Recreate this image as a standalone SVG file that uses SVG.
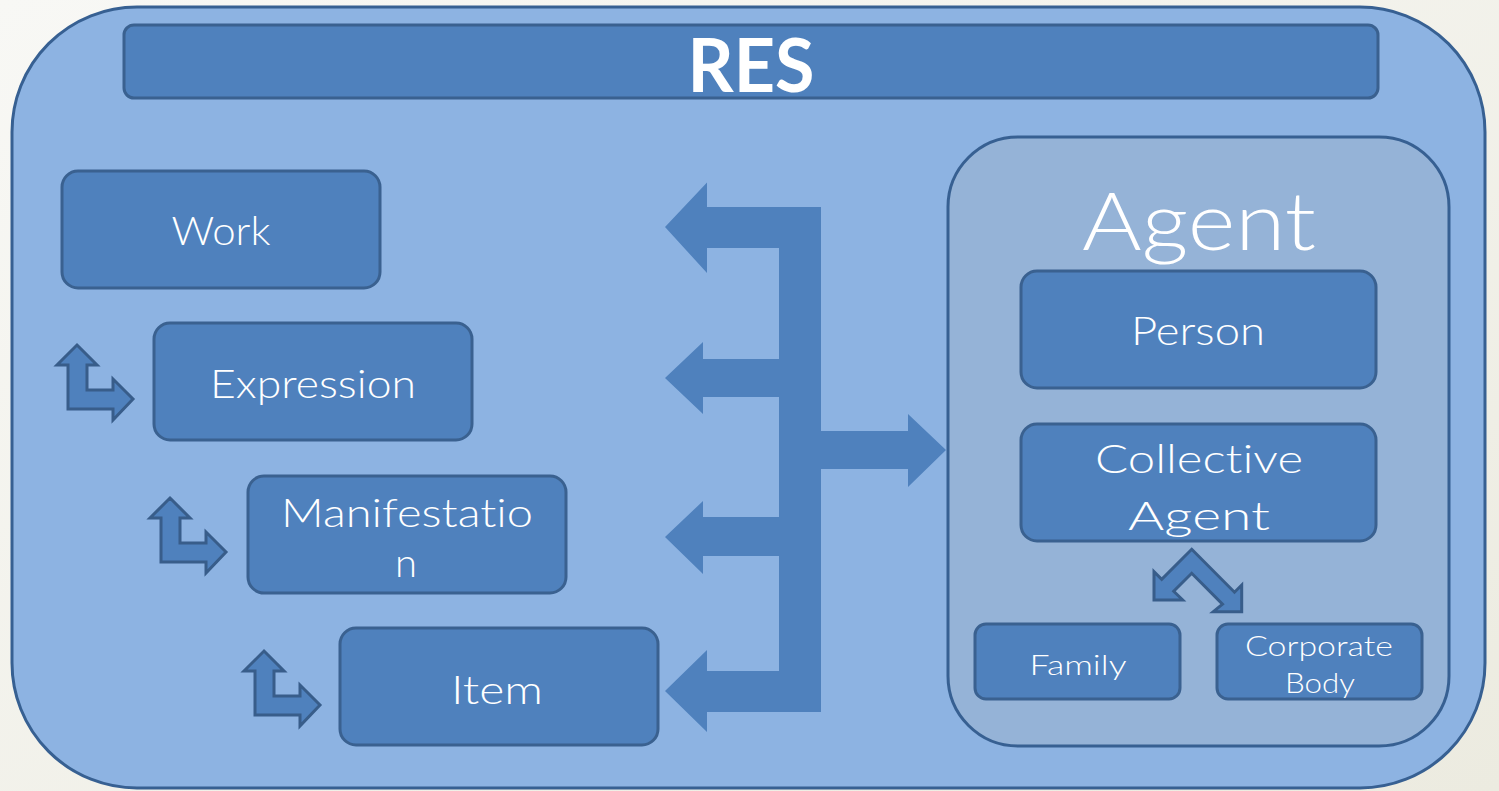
<svg xmlns="http://www.w3.org/2000/svg" width="1499" height="791" viewBox="0 0 1499 791">
<defs>
<linearGradient id="bg" x1="0" y1="0" x2="1" y2="1">
<stop offset="0" stop-color="#f8f8f5"/>
<stop offset="1" stop-color="#ecebe0"/>
</linearGradient>
</defs>
<style>
.box{fill:#4f81bd;stroke:#3a6190;stroke-width:3}
.lbl{fill:#ffffff;font-family:Lato,"Open Sans","Liberation Sans",sans-serif;font-weight:300;text-anchor:middle;font-variant-ligatures:none}
.big{fill:#4f81bd}
.bent{fill:#4f81bd;stroke:#385d8a;stroke-width:3;stroke-linejoin:miter}
</style>
<rect x="0" y="0" width="1499" height="791" fill="url(#bg)"/>
<g id="res">
<rect x="12" y="7" width="1473" height="781" rx="125" fill="#8db3e2" stroke="#376092" stroke-width="3"/>
<rect x="124" y="25" width="1254" height="73" rx="10" class="box" stroke-width="2"/>
<text x="751" y="92" class="lbl" font-size="74" style="font-weight:bold" textLength="127" lengthAdjust="spacingAndGlyphs">RES</text>
</g>
<g id="work">
<rect x="62" y="171" width="318" height="117" rx="16" class="box"/>
<text x="221" y="245" class="lbl" font-size="40" textLength="99" lengthAdjust="spacingAndGlyphs">Work</text>
</g>
<g id="expression">
<rect x="154" y="323" width="318" height="117" rx="16" class="box"/>
<text x="313" y="398" class="lbl" font-size="40" textLength="206" lengthAdjust="spacingAndGlyphs">Expression</text>
</g>
<g id="manifestation">
<rect x="248" y="476" width="318" height="117" rx="16" class="box"/>
<text x="407" y="527" class="lbl" font-size="40" textLength="252" lengthAdjust="spacingAndGlyphs">Manifestatio</text>
<text x="406" y="577" class="lbl" font-size="40">n</text>
</g>
<g id="item">
<rect x="340" y="628" width="318" height="117" rx="16" class="box"/>
<text x="497" y="704" class="lbl" font-size="40" textLength="92" lengthAdjust="spacingAndGlyphs">Item</text>
</g>
<g id="agent">
<rect x="948" y="137" width="501" height="609" rx="70" fill="#95b3d7" stroke="#376092" stroke-width="3"/>
<text x="1199" y="250" class="lbl" font-size="80" textLength="234" lengthAdjust="spacingAndGlyphs">Agent</text>
</g>
<g id="person">
<rect x="1021" y="271" width="355" height="117" rx="16" class="box"/>
<text x="1198" y="345" class="lbl" font-size="40" textLength="134" lengthAdjust="spacingAndGlyphs">Person</text>
</g>
<g id="collective-agent">
<rect x="1021" y="424" width="355" height="117" rx="16" class="box"/>
<text x="1199" y="473" class="lbl" font-size="40" textLength="208" lengthAdjust="spacingAndGlyphs">Collective</text>
<text x="1199" y="530" class="lbl" font-size="40" textLength="142" lengthAdjust="spacingAndGlyphs">Agent</text>
</g>
<g id="family">
<rect x="975" y="624" width="205" height="75" rx="11" class="box"/>
<text x="1078" y="675" class="lbl" font-size="28" textLength="97" lengthAdjust="spacingAndGlyphs">Family</text>
</g>
<g id="corporate-body">
<rect x="1217" y="624" width="205" height="75" rx="11" class="box"/>
<text x="1319" y="656" class="lbl" font-size="28" textLength="148" lengthAdjust="spacingAndGlyphs">Corporate</text>
<text x="1320" y="693" class="lbl" font-size="28" textLength="70" lengthAdjust="spacingAndGlyphs">Body</text>
</g>
<g id="connectors">
<path class="big" d="M779,207H821V712H779Z M707,207H821V248H707Z M707,182.5L665,227L707,273Z M703,359H779V397H703Z M703,342L665,378L703,414Z M703,517H779V556H703Z M703,501L665,537L703,574Z M707,671H821V712H707Z M707,650L665,691L707,732Z M821,431H908V469H821Z M908,414L946,450L908,487Z"/>
<path id="bent1" class="bent" d="M77,345L97,365H87V390H113V379L133,399L113,420V409H68V365H57Z"/>
<path class="bent" transform="translate(93,153)" d="M77,345L97,365H87V390H113V379L133,399L113,420V409H68V365H57Z"/>
<path class="bent" transform="translate(187,306)" d="M77,345L97,365H87V390H113V379L133,399L113,420V409H68V365H57Z"/>
<path class="bent" d="M1191.7,549.3L1234.5,592.2L1241.7,585V611.7H1213.3L1222.5,604.2L1191.7,573.3L1173.7,591.3L1182.7,600H1154V571.7L1161.7,579.3Z"/>
</g>
</svg>
